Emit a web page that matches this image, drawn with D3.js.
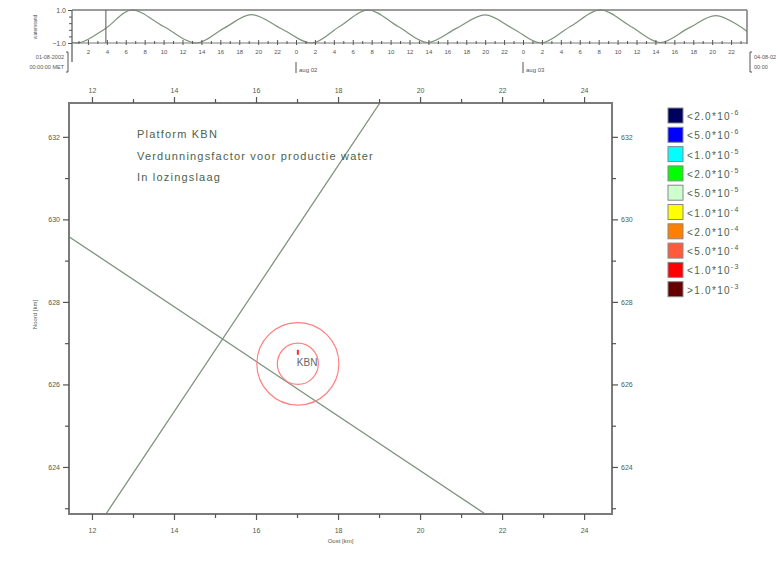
<!DOCTYPE html>
<html>
<head>
<meta charset="utf-8">
<script src="https://cdn.jsdelivr.net/npm/d3@7/dist/d3.min.js"></script>
<style>
  body { margin: 0; background: #fff; }
  svg text { font-family: 'Liberation Sans', Arial, sans-serif; }
</style>
</head>
<body>
<div id="chart"></div>
<script>
// Tide strip: hours since start, relative water level
const tideHour  = [0, 1.2, 3.9, 6.6, 10.0, 13.5, 16.4, 19.3, 22.5, 25.7, 28.6, 31.6, 34.8, 37.9, 41.0, 44.0, 47.0, 49.9, 53.0, 56.2, 59.4, 62.5, 65.5, 68.4, 71.7];
const tideLevel = [-0.92, -0.97, -0.1, 1.0, 0.0, -1.0, -0.1, 0.72, -0.15, -1.0, 0.0, 1.0, 0.0, -0.97, -0.1, 0.7, -0.15, -1.0, 0.0, 1.0, 0.0, -0.97, -0.1, 0.66, -0.3];
const tideNow = 3.9;
const hourTicks = d3.range(0, 73, 2);
const dayStarts = [24, 48];
const dayLabels = ['aug 02', 'aug 03'];

// Main map
const xTicks = [12, 14, 16, 18, 20, 22, 24];
const xMinor = [13, 15, 17, 19, 21, 23];
const yTicks = [632, 630, 628, 626, 624];
const yMinor = [631, 629, 627, 625, 623];
const lineAx = [12.34, 19.02];
const lineAy = [622.86, 632.82];
const lineBx = [11.44, 21.59];
const lineBy = [629.58, 622.86];
const platX = 17.02;
const platY = 626.5;
const ringKm = [0.5, 1.0];
const titleLines = ['Platform KBN', 'Verdunningsfactor voor productie water', 'In lozingslaag'];

// Legend
const legendColors = ['#00005e', '#0000ff', '#00ffff', '#00ff00', '#ccffcc', '#ffff00', '#ff8000', '#ff5a3c', '#ff0000', '#660000'];
const legendMant = ['<2.0', '<5.0', '<1.0', '<2.0', '<5.0', '<1.0', '<2.0', '<5.0', '<1.0', '>1.0'];
const legendExp  = ['-6', '-6', '-5', '-5', '-5', '-4', '-4', '-4', '-3', '-3'];

const W = 778, H = 576;
const ink = '#555', frameCol = '#7a7a7a', lineCol = '#7c947c', txtCol = '#4d624d';

const svg = d3.select('#chart').append('svg')
  .attr('width', W).attr('height', H);

// ---------- tide strip ----------
const tx = d3.scaleLinear().domain([0, 72]).range([69, 750]);
const ty = d3.scaleLinear().domain([-1, 1]).range([43, 10]);
const strip = svg.append('g');

strip.append('clipPath').attr('id', 'stripClip')
  .append('rect').attr('x', 72).attr('y', 9).attr('width', 675).attr('height', 35);

strip.append('path')
  .datum(tideHour.map((h, i) => [h, tideLevel[i]]))
  .attr('clip-path', 'url(#stripClip)')
  .attr('fill', 'none').attr('stroke', lineCol).attr('stroke-width', 1.2)
  .attr('d', d3.line().x(d => tx(d[0])).y(d => ty(d[1])).curve(d3.curveCatmullRom));

// frame lines
strip.append('line').attr('x1', 72).attr('x2', 747).attr('y1', 10).attr('y2', 10)
  .attr('stroke', frameCol).attr('stroke-width', 1.5);
strip.append('line').attr('x1', 747).attr('x2', 747).attr('y1', 10).attr('y2', 44)
  .attr('stroke', frameCol).attr('stroke-width', 1.5);
strip.append('line').attr('x1', 72).attr('x2', 72).attr('y1', 10).attr('y2', 62)
  .attr('stroke', frameCol).attr('stroke-width', 1.5);
strip.append('line').attr('x1', 72).attr('x2', 747).attr('y1', 43).attr('y2', 43)
  .attr('stroke', frameCol).attr('stroke-width', 1.2);

// current time marker
strip.append('line').attr('x1', tx(tideNow)).attr('x2', tx(tideNow))
  .attr('y1', 10).attr('y2', 43).attr('stroke', ink).attr('stroke-width', 1);

// left value axis
const tyAxis = d3.axisLeft(ty).tickValues([-1, 1]).tickSize(4).tickFormat(d3.format('.1f'));
const gty = strip.append('g').attr('transform', 'translate(72,0)').call(tyAxis);
gty.select('.domain').remove();
gty.selectAll('line').attr('stroke', ink);
gty.selectAll('text').attr('font-size', 7).attr('fill', ink).attr('x', -6);
strip.append('g').attr('transform', 'translate(72,0)')
  .call(d3.axisLeft(ty).tickValues([-0.6, -0.2, 0.2, 0.6]).tickSize(3).tickFormat(''))
  .call(g => g.select('.domain').remove())
  .selectAll('line').attr('stroke', ink);
strip.append('text').attr('transform', 'translate(37,27) rotate(-90)')
  .attr('text-anchor', 'middle').attr('font-size', 5).attr('fill', ink).text('waterstand');

// hour axis
const hourAxis = d3.axisBottom(tx).tickValues(hourTicks.filter(h => h > 0 && h < 72))
  .tickSize(5).tickFormat(d => d % 24);
const gtx = strip.append('g').attr('transform', 'translate(0,40)').call(hourAxis);
gtx.select('.domain').remove();
gtx.selectAll('line').attr('stroke', ink).attr('stroke-width', 1);
gtx.selectAll('text').attr('font-size', 6).attr('fill', ink).attr('y', 10);
strip.append('g').attr('transform', 'translate(0,41)')
  .call(d3.axisBottom(tx).tickValues(d3.range(1, 72, 2)).tickSize(3).tickFormat(''))
  .call(g => g.select('.domain').remove())
  .selectAll('line').attr('stroke', ink);

dayStarts.forEach((d, i) => {
  strip.append('line').attr('x1', tx(d)).attr('x2', tx(d)).attr('y1', 62).attr('y2', 73)
    .attr('stroke', ink);
  strip.append('text').attr('x', tx(d) + 3).attr('y', 72).attr('font-size', 6)
    .attr('fill', ink).text(dayLabels[i]);
});

// date captions
strip.append('text').attr('x', 64).attr('y', 59).attr('text-anchor', 'end')
  .attr('font-size', 5.5).attr('fill', ink).text('01-08-2002');
strip.append('text').attr('x', 64).attr('y', 69).attr('text-anchor', 'end')
  .attr('font-size', 5.5).attr('fill', ink).text('00:00:00 MET');
strip.append('path').attr('d', 'M66,52 L68,52 L68,72 L66,72').attr('fill', 'none').attr('stroke', ink);
strip.append('path').attr('d', 'M752,52 L750,52 L750,72 L752,72').attr('fill', 'none').attr('stroke', ink);
strip.append('text').attr('x', 754).attr('y', 59).attr('font-size', 5.5).attr('fill', ink).text('04-08-02');
strip.append('text').attr('x', 754).attr('y', 69).attr('font-size', 5.5).attr('fill', ink).text('00:00');

// ---------- main map ----------
const L = 69, R = 612, T = 103, B = 514;
const x = d3.scaleLinear().domain([11.44, 24.68]).range([L, R]);
const y = d3.scaleLinear().domain([622.86, 632.82]).range([B, T]);
const map = svg.append('g');

map.append('clipPath').attr('id', 'mapClip')
  .append('rect').attr('x', L).attr('y', T).attr('width', R - L).attr('height', B - T);

const plot = map.append('g').attr('clip-path', 'url(#mapClip)');
const seg = d3.line().x(d => x(d[0])).y(d => y(d[1]));
[[lineAx, lineAy], [lineBx, lineBy]].forEach(([lx, ly]) => {
  plot.append('path')
    .datum(lx.map((v, i) => [v, ly[i]]))
    .attr('d', seg)
    .attr('fill', 'none').attr('stroke', lineCol).attr('stroke-width', 1.3);
});

ringKm.forEach(r => {
  plot.append('ellipse')
    .attr('cx', x(platX)).attr('cy', y(platY))
    .attr('rx', x(platX + r) - x(platX)).attr('ry', y(platY) - y(platY + r))
    .attr('fill', 'none').attr('stroke', '#ff8080').attr('stroke-width', 1.2);
});
plot.append('line')
  .attr('x1', x(platX)).attr('x2', x(platX))
  .attr('y1', y(platY) - 14).attr('y2', y(platY) - 9)
  .attr('stroke', '#ff2a2a').attr('stroke-width', 2);
plot.append('text').attr('x', x(platX) - 1).attr('y', y(platY) + 2)
  .attr('font-size', 10).attr('fill', '#666').text('KBN');

// title block
titleLines.forEach((t, i) => {
  map.append('text').attr('x', 137).attr('y', 138 + i * 21.5)
    .attr('font-size', 11).attr('letter-spacing', 1.2).attr('fill', txtCol).text(t);
});

// frame
map.append('rect').attr('x', L).attr('y', T).attr('width', R - L).attr('height', B - T)
  .attr('fill', 'none').attr('stroke', frameCol).attr('stroke-width', 2);

function styleAxis(g, fs) {
  g.select('.domain').remove();
  g.selectAll('line').attr('stroke', ink).attr('stroke-width', 1.2);
  g.selectAll('text').attr('font-size', fs).attr('fill', txtCol);
}
const fmt = d3.format('d');

map.append('g').attr('transform', `translate(0,${B})`)
  .call(d3.axisBottom(x).tickValues(xTicks).tickSize(6).tickPadding(8).tickFormat(fmt))
  .call(g => styleAxis(g, 7));
map.append('g').attr('transform', `translate(0,${B})`)
  .call(d3.axisBottom(x).tickValues(xMinor).tickSize(4).tickFormat(''))
  .call(g => styleAxis(g, 7));
map.append('g').attr('transform', `translate(0,${T})`)
  .call(d3.axisTop(x).tickValues(xTicks).tickSize(6).tickPadding(4).tickFormat(fmt))
  .call(g => styleAxis(g, 7));
map.append('g').attr('transform', `translate(0,${T})`)
  .call(d3.axisTop(x).tickValues(xMinor).tickSize(4).tickFormat(''))
  .call(g => styleAxis(g, 7));
map.append('g').attr('transform', `translate(${L},0)`)
  .call(d3.axisLeft(y).tickValues(yTicks).tickSize(6).tickPadding(3).tickFormat(fmt))
  .call(g => styleAxis(g, 7));
map.append('g').attr('transform', `translate(${L},0)`)
  .call(d3.axisLeft(y).tickValues(yMinor).tickSize(4).tickFormat(''))
  .call(g => styleAxis(g, 7));
map.append('g').attr('transform', `translate(${R},0)`)
  .call(d3.axisRight(y).tickValues(yTicks).tickSize(6).tickPadding(3).tickFormat(fmt))
  .call(g => styleAxis(g, 7));
map.append('g').attr('transform', `translate(${R},0)`)
  .call(d3.axisRight(y).tickValues(yMinor).tickSize(4).tickFormat(''))
  .call(g => styleAxis(g, 7));

map.append('text').attr('x', (L + R) / 2).attr('y', 543).attr('text-anchor', 'middle')
  .attr('font-size', 6).attr('fill', txtCol).text('Oost [km]');
map.append('text').attr('transform', `translate(37,${(T + B) / 2 + 6}) rotate(-90)`)
  .attr('text-anchor', 'middle').attr('font-size', 6).attr('fill', txtCol).text('Noord [km]');

// ---------- legend ----------
const lg = svg.append('g').attr('transform', 'translate(668,108)');
const rows = lg.selectAll('g').data(legendColors).join('g')
  .attr('transform', (d, i) => `translate(0,${i * 19.3})`);
rows.append('rect').attr('width', 15).attr('height', 15)
  .attr('fill', d => d).attr('stroke', '#888').attr('stroke-width', 1);
const lt = rows.append('text').attr('x', 19).attr('y', 12)
  .attr('font-size', 10).attr('letter-spacing', 1.3).attr('fill', txtCol);
lt.append('tspan').text((d, i) => legendMant[i] + '*10');
lt.append('tspan').attr('dy', -5).attr('font-size', 7).text((d, i) => legendExp[i]);
</script>
</body>
</html>
